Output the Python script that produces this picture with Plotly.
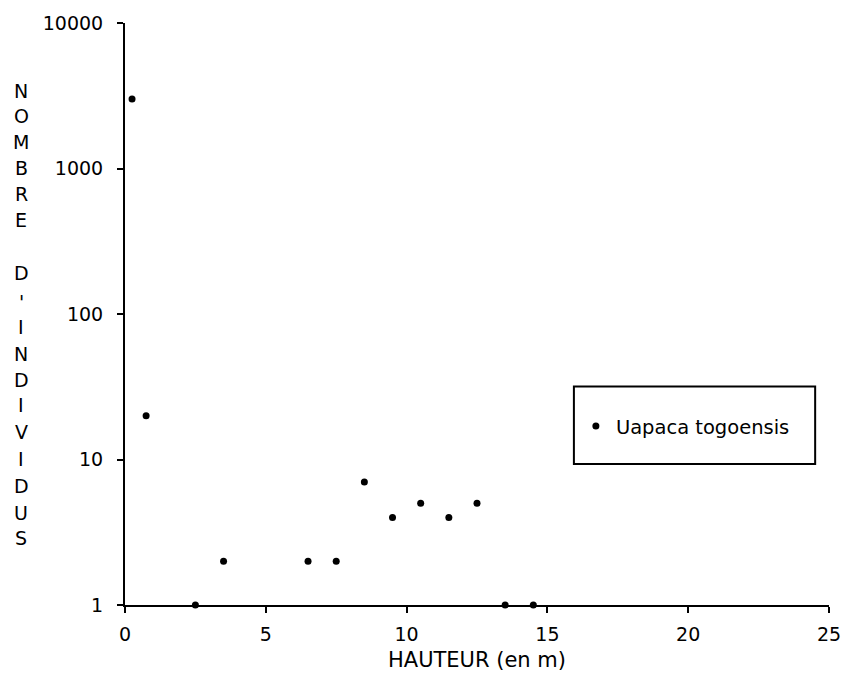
import plotly.graph_objects as go

# Height classes (m) and number of individuals per class
hauteur = [0.25, 0.75, 2.5, 3.5, 6.5, 7.5, 8.5, 9.5, 10.5, 11.5, 12.5, 13.5, 14.5]
nombre = [3000, 20, 1, 2, 2, 2, 7, 4, 5, 4, 5, 1, 1]

espece = "Uapaca togoensis"
x_ticks = [0, 5, 10, 15, 20, 25]
y_ticks = [1, 10, 100, 1000, 10000]
y_ticktext = ["1", "10", "100", "1000", "10000"]

# vertical y-axis title, one letter per row (row centres in pixels from top)
titre_lettres = ["N", "O", "M", "B", "R", "E", "D", "'", "I", "N", "D", "I", "V", "I", "D", "U", "S"]
titre_rangs = [87, 113, 139, 165, 191, 217, 271, 300, 325, 352, 378, 404, 431, 458, 485, 512, 538]

FONT = "DejaVu Sans"
W, H = 853, 684
L, R, T, B = 125, 16, 19, 79
# pixel frame of the plotting area used to place the title letters and legend box
X0, X1, Y0, Y1 = L, W - R, T, H - B


def px_x(px):
    return (px - X0) / (X1 - X0)


def px_y(py):
    return (Y1 - py) / (Y1 - Y0)


fig = go.Figure()
fig.add_trace(go.Scatter(
    x=hauteur, y=nombre, mode="markers", name=espece,
    marker=dict(symbol="circle", size=7, color="black", line=dict(width=0)),
    cliponaxis=False,
))

annotations = []
for lettre, py in zip(titre_lettres, titre_rangs):
    annotations.append(dict(
        text=lettre, xref="paper", yref="paper",
        x=px_x(20), y=px_y(py),
        xanchor="center", yanchor="middle", showarrow=False,
        font=dict(family=FONT, size=19, color="black"),
    ))

fig.update_layout(
    width=W, height=H,
    margin=dict(l=L, r=R, t=T, b=B),
    paper_bgcolor="white", plot_bgcolor="white",
    font=dict(family=FONT, color="black"),
    showlegend=True,
    legend=dict(
        x=px_x(581), y=px_y(425),
        xanchor="left", yanchor="middle",
        bgcolor="rgba(0,0,0,0)", borderwidth=0,
        font=dict(family=FONT, size=19.5, color="black"),
        itemsizing="trace",
    ),
    shapes=[dict(
        type="rect", xref="paper", yref="paper",
        x0=px_x(579), x1=px_x(823),
        y0=px_y(463), y1=px_y(385),
        line=dict(color="black", width=2),
    )],
    annotations=annotations,
    xaxis=dict(
        range=[0, 25], tickvals=x_ticks,
        showline=True, linecolor="black", linewidth=2,
        ticks="outside", ticklen=6, tickwidth=2, tickcolor="black",
        showgrid=False, zeroline=False,
        tickfont=dict(family=FONT, size=19, color="black"),
        ticklabelstandoff=5,
        title=dict(text="HAUTEUR (en m)", standoff=9,
                   font=dict(family=FONT, size=21, color="black")),
    ),
    yaxis=dict(
        type="log", range=[0, 4], tickvals=y_ticks, ticktext=y_ticktext,
        showline=True, linecolor="black", linewidth=2,
        ticks="outside", ticklen=6, tickwidth=2, tickcolor="black",
        showgrid=False, zeroline=False,
        tickfont=dict(family=FONT, size=19, color="black"),
        ticklabelstandoff=10,
    ),
)

fig.write_html("out.html")
